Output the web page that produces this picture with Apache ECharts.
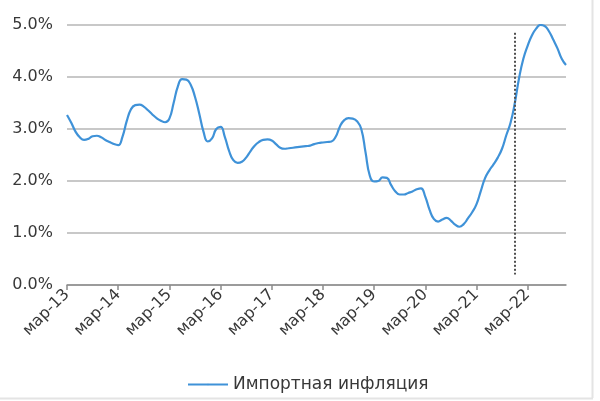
<!DOCTYPE html>
<html>
<head>
<meta charset="utf-8">
<script src="https://cdn.jsdelivr.net/npm/echarts@6/dist/echarts.min.js"></script>
<style>
  html, body { margin: 0; padding: 0; background: #fff; }
  #chart { width: 600px; height: 401px; }
</style>
</head>
<body>
<div id="chart"></div>
<script>
// monthly series, mar-13 .. dec-22
const MONTHS = ["янв", "фев", "мар", "апр", "май", "июн", "июл", "авг", "сен", "окт", "ноя", "дек"];
const START_YEAR = 2013;
const START_MONTH = 2; // март

const importInflation = [
  3.27, 3.12, 2.95, 2.84, 2.79, 2.81, 2.86, 2.87, 2.84, 2.79, 2.75, 2.71,
  2.69, 2.85, 3.15, 3.38, 3.46, 3.47, 3.43, 3.36, 3.28, 3.21, 3.16, 3.13,
  3.20, 3.50, 3.82, 3.96, 3.95, 3.85, 3.62, 3.30, 2.95, 2.76, 2.82, 3.00,
  3.04, 2.85, 2.58, 2.40, 2.35, 2.37, 2.45, 2.57, 2.68, 2.75, 2.79, 2.80,
  2.78, 2.71, 2.64, 2.62, 2.63, 2.64, 2.65, 2.66, 2.67, 2.68, 2.71, 2.73,
  2.74, 2.75, 2.76, 2.85, 3.05, 3.17, 3.21, 3.20, 3.15, 3.00, 2.55, 2.10,
  1.99, 2.00, 2.07, 2.06, 1.92, 1.80, 1.74, 1.74, 1.77, 1.80, 1.84, 1.86,
  1.70, 1.45, 1.27, 1.22, 1.26, 1.29, 1.24, 1.16, 1.12, 1.17, 1.28, 1.40,
  1.55, 1.80, 2.05, 2.20, 2.32, 2.45, 2.62, 2.88, 3.12, 3.50, 3.98, 4.35,
  4.60, 4.80, 4.93, 5.00, 4.98, 4.88, 4.72, 4.55, 4.35, 4.23
];

const categories = importInflation.map((_, i) => {
  const m = START_MONTH + i;
  const yy = String((START_YEAR + Math.floor(m / 12)) % 100).padStart(2, "0");
  return MONTHS[m % 12] + "-" + yy;
});

// вертикальная пунктирная линия
const markerMonth = "дек-21";
const markerRange = [0.2, 4.85];

const yTicks = { min: 0, max: 5, interval: 1 };

const FONT = "'DejaVu Sans', 'Noto Sans', sans-serif";
const TEXT = "#383838";

const chart = echarts.init(document.getElementById("chart"));

chart.setOption({
  animation: false,
  grid: { left: 67, right: 34, top: 25, bottom: 116, containLabel: false },
  xAxis: {
    type: "category",
    data: categories,
    boundaryGap: false,
    axisLine: { lineStyle: { color: "#8c8c8c", width: 1.5 } },
    axisTick: { interval: 11, length: 5, lineStyle: { color: "#8c8c8c", width: 1.5 } },
    axisLabel: {
      interval: 11,
      rotate: 45,
      margin: 7,
      color: TEXT,
      fontFamily: FONT,
      fontSize: 16
    },
    splitLine: { show: false }
  },
  yAxis: {
    type: "value",
    min: yTicks.min,
    max: yTicks.max,
    interval: yTicks.interval,
    axisLine: { show: false },
    axisTick: { show: false },
    axisLabel: {
      margin: 14,
      color: TEXT,
      fontFamily: FONT,
      fontSize: 16,
      formatter: (v) => v.toFixed(1) + "%"
    },
    splitLine: { lineStyle: { color: "#c8c8c8", width: 2 } }
  },
  legend: {
    left: 182,
    top: 371,
    itemWidth: 40,
    itemHeight: 2,
    textStyle: { color: TEXT, fontFamily: FONT, fontSize: 17 },
    data: ["Импортная инфляция"]
  },
  graphic: [
    { type: "line", shape: { x1: 592.5, y1: 0, x2: 592.5, y2: 398 }, style: { stroke: "#e4e4e4", lineWidth: 2 } },
    { type: "line", shape: { x1: 0, y1: 398.5, x2: 593, y2: 398.5 }, style: { stroke: "#e4e4e4", lineWidth: 2 } }
  ],
  series: [
    {
      name: "Импортная инфляция",
      type: "line",
      data: importInflation,
      smooth: 0.5,
      symbol: "none",
      lineStyle: { color: "#3f92d8", width: 2.2 },
      itemStyle: { color: "#3f92d8" },
      markLine: {
        silent: true,
        symbol: "none",
        label: { show: false },
        lineStyle: { color: "#505050", type: "dotted", width: 2 },
        data: [[
          { coord: [markerMonth, markerRange[1]] },
          { coord: [markerMonth, markerRange[0]] }
        ]]
      }
    }
  ]
});
</script>
</body>
</html>
